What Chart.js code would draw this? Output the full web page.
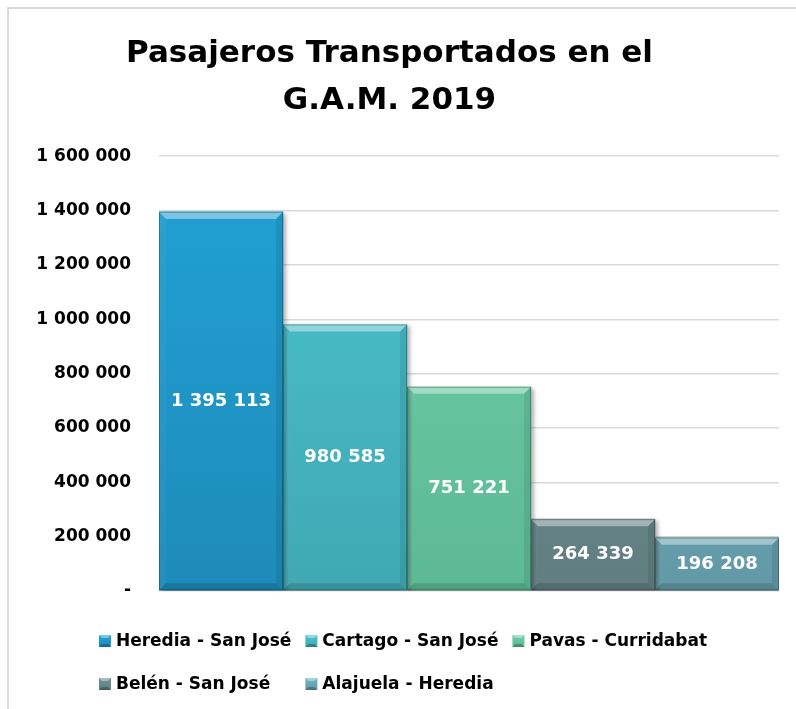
<!DOCTYPE html>
<html>
<head>
<meta charset="utf-8">
<script src="https://cdn.jsdelivr.net/npm/chart.js@4.4.0/dist/chart.umd.min.js"></script>
<style>
  html, body { margin: 0; padding: 0; background: #fff; overflow: hidden; }
  canvas { display: block; }
</style>
</head>
<body>
<canvas id="chart" width="796" height="709"></canvas>
<script>
const routes = ['Heredia - San José', 'Cartago - San José', 'Pavas - Curridabat', 'Belén - San José', 'Alajuela - Heredia'];
const passengers = [1395113, 980585, 751221, 264339, 196208];
const topColors = ['#22a1d5', '#4bc4d2', '#6fcfaa', '#6f9193', '#70b5c4'];
const bottomColors = ['#1d8bba', '#40a8b2', '#5db995', '#617e80', '#6299a6'];
const yMax = 1600000;
const yStep = 200000;

const FONT = 'DejaVu Sans';

function fmt(v) {
  if (v === 0) return '-';
  return String(v).replace(/\B(?=(\d{3})+(?!\d))/g, ' ');
}

function barFill(i) {
  return (context) => {
    const { chart } = context;
    const area = chart.chartArea;
    if (!area) return topColors[i];
    const el = chart.getDatasetMeta(i).data[0];
    const top = el && isFinite(el.y) ? el.y : area.top;
    const g = chart.ctx.createLinearGradient(0, top, 0, area.bottom);
    g.addColorStop(0, topColors[i]);
    g.addColorStop(1, bottomColors[i]);
    return g;
  };
}

// chart frame, only left and top edges are inside the picture
const frame = {
  id: 'frame',
  beforeDraw(chart) {
    const { ctx } = chart;
    ctx.save();
    ctx.strokeStyle = '#d9d9d9';
    ctx.lineWidth = 2;
    ctx.beginPath();
    ctx.moveTo(8, chart.height + 5);
    ctx.lineTo(8, 8);
    ctx.lineTo(chart.width + 5, 8);
    ctx.stroke();
    ctx.restore();
  }
};

// bevel + shadow look of the office bars
const bevel = {
  id: 'bevel',
  beforeDatasetsDraw(chart) {
    const { ctx } = chart;
    ctx.save();
    ctx.shadowColor = 'rgba(0,0,0,0.3)';
    ctx.shadowOffsetX = 3;
    ctx.shadowOffsetY = 2;
    ctx.shadowBlur = 4;
  },
  afterDatasetsDraw(chart) {
    const { ctx } = chart;
    ctx.restore();
    chart.data.datasets.forEach((ds, i) => {
      chart.getDatasetMeta(i).data.forEach(bar => {
        const l = bar.x - bar.width / 2;
        const r = bar.x + bar.width / 2;
        const t = bar.y;
        const b = bar.base;
        const s = Math.min(7, (b - t) / 2);
        const poly = (pts, color) => {
          ctx.beginPath();
          ctx.moveTo(pts[0][0], pts[0][1]);
          pts.slice(1).forEach(p => ctx.lineTo(p[0], p[1]));
          ctx.closePath();
          ctx.fillStyle = color;
          ctx.fill();
        };
        ctx.save();
        poly([[l, t], [r, t], [r - s, t + s], [l + s, t + s]], 'rgba(255,255,255,0.4)');
        poly([[l, t], [l + s, t + s], [l + s, b - s], [l, b]], 'rgba(255,255,255,0.04)');
        poly([[r, t], [r, b], [r - s, b - s], [r - s, t + s]], 'rgba(0,0,0,0.08)');
        poly([[l, b], [r, b], [r - s, b - s], [l + s, b - s]], 'rgba(0,0,0,0.14)');
        ctx.strokeStyle = 'rgba(0,0,0,0.25)';
        ctx.lineWidth = 1;
        ctx.strokeRect(l + 0.5, t + 0.5, r - l - 1, b - t - 1);
        ctx.restore();
      });
    });
  }
};

const valueLabels = {
  id: 'valueLabels',
  afterDatasetsDraw(chart) {
    const { ctx } = chart;
    ctx.save();
    ctx.font = 'bold 18px "' + FONT + '"';
    ctx.fillStyle = '#ffffff';
    ctx.textAlign = 'center';
    ctx.textBaseline = 'middle';
    chart.data.datasets.forEach((ds, i) => {
      chart.getDatasetMeta(i).data.forEach((bar, j) => {
        ctx.fillText(fmt(ds.data[j]), bar.x, (bar.y + bar.base) / 2);
      });
    });
    ctx.restore();
  }
};

// legend laid out in columns like the office legend
const gridLegend = {
  id: 'gridLegend',
  afterDraw(chart) {
    const { ctx, chartArea } = chart;
    const cols = 3;
    const box = 12;
    const gap = 5;
    const spacing = 14;
    ctx.save();
    ctx.font = 'bold 17px "' + FONT + '"';
    const items = chart.data.datasets.map((ds, i) => ({ text: ds.label, i, w: ctx.measureText(ds.label).width }));
    const colW = [];
    items.forEach((it, k) => {
      const c = k % cols;
      colW[c] = Math.max(colW[c] || 0, box + gap + it.w);
    });
    const total = colW.reduce((a, b) => a + b, 0) + spacing * (cols - 1);
    const x0 = (chart.width + 10) / 2 - total / 2;
    const rowY = [chartArea.bottom + 50, chartArea.bottom + 93];
    items.forEach((it, k) => {
      const c = k % cols;
      const r = Math.floor(k / cols);
      let x = x0;
      for (let q = 0; q < c; q++) x += colW[q] + spacing;
      const y = rowY[r];
      const g = ctx.createLinearGradient(0, y - box / 2, 0, y + box / 2);
      g.addColorStop(0, topColors[it.i]);
      g.addColorStop(1, bottomColors[it.i]);
      ctx.fillStyle = g;
      ctx.fillRect(x, y - box / 2, box, box);
      ctx.fillStyle = 'rgba(255,255,255,0.4)';
      ctx.beginPath();
      ctx.moveTo(x, y - box / 2);
      ctx.lineTo(x + box, y - box / 2);
      ctx.lineTo(x + box - 3, y - box / 2 + 3);
      ctx.lineTo(x + 3, y - box / 2 + 3);
      ctx.closePath();
      ctx.fill();
      ctx.fillStyle = 'rgba(0,0,0,0.25)';
      ctx.beginPath();
      ctx.moveTo(x, y + box / 2);
      ctx.lineTo(x + box, y + box / 2);
      ctx.lineTo(x + box - 3, y + box / 2 - 3);
      ctx.lineTo(x + 3, y + box / 2 - 3);
      ctx.closePath();
      ctx.fill();
      ctx.fillStyle = '#000';
      ctx.textAlign = 'left';
      ctx.textBaseline = 'middle';
      ctx.fillText(it.text, x + box + gap, y + 1);
    });
    ctx.restore();
  }
};

const ctx = document.getElementById('chart');

new Chart(ctx, {
  type: 'bar',
  data: {
    labels: [''],
    datasets: routes.map((name, i) => ({
      label: name,
      data: [passengers[i]],
      backgroundColor: barFill(i),
      borderWidth: 0,
      categoryPercentage: 1,
      barPercentage: 1
    }))
  },
  options: {
    responsive: false,
    animation: false,
    layout: {
      padding: { left: 0, right: 17, top: 0, bottom: 118 }
    },
    plugins: {
      legend: { display: false },
      tooltip: { enabled: false },
      title: {
        display: true,
        text: ['Pasajeros Transportados en el', 'G.A.M. 2019'],
        color: '#000000',
        font: { family: FONT, size: 31, weight: 'bold', lineHeight: 1.52 },
        padding: { top: 30, bottom: 32 }
      }
    },
    scales: {
      x: { display: false },
      y: {
        min: 0,
        max: yMax,
        ticks: {
          stepSize: yStep,
          padding: 28,
          color: '#000000',
          font: { family: FONT, size: 17, weight: 'bold' },
          callback: (v) => fmt(v)
        },
        grid: { color: '#d9d9d9', lineWidth: 1.5, drawTicks: false },
        border: { display: false },
        afterFit: (scale) => { scale.width = 159; }
      }
    }
  },
  plugins: [frame, bevel, valueLabels, gridLegend]
});
</script>
</body>
</html>
